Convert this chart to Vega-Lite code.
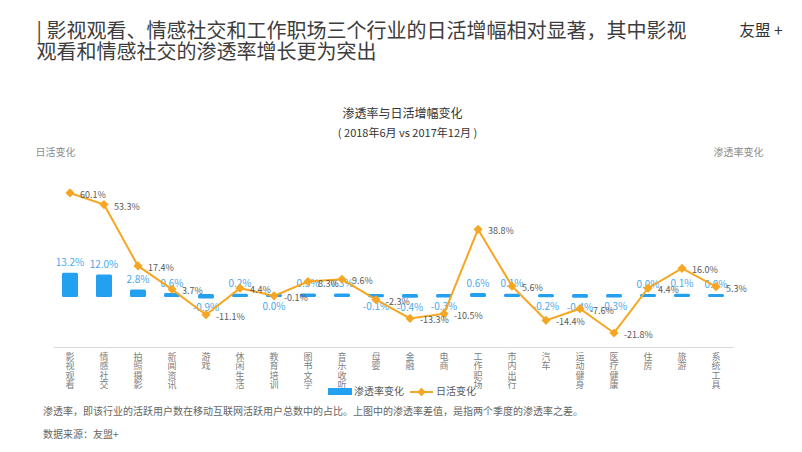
{
  "$schema": "https://vega.github.io/schema/vega-lite/v6.json",
  "width": 680,
  "height": 171,
  "autosize": {"type": "none"},
  "padding": {"left": 53, "top": 176, "right": 69, "bottom": 105},
  "background": "white",
  "data": {
    "values": [
      {"c": "影视观看", "p": 13.2, "d": 60.1},
      {"c": "情感社交", "p": 12.0, "d": 53.3},
      {"c": "拍照摄影", "p": 2.8, "d": 17.4},
      {"c": "新闻资讯", "p": 0.6, "d": 3.7},
      {"c": "游戏", "p": -0.9, "d": -11.1},
      {"c": "休闲生活", "p": 0.2, "d": 4.4},
      {"c": "教育培训", "p": -0.02, "d": -0.1},
      {"c": "图书文学", "p": 0.3, "d": 8.3},
      {"c": "音乐收听", "p": 0.3, "d": 9.6},
      {"c": "母婴", "p": -0.1, "d": -2.3},
      {"c": "金融", "p": -0.4, "d": -13.3},
      {"c": "电商", "p": -0.3, "d": -10.5},
      {"c": "工作职场", "p": 0.6, "d": 38.8},
      {"c": "市内出行", "p": 0.1, "d": 5.6},
      {"c": "汽车", "p": -0.2, "d": -14.4},
      {"c": "运动健身", "p": -0.4, "d": -7.6},
      {"c": "医疗健康", "p": -0.3, "d": -21.8},
      {"c": "住房", "p": 0.0, "d": 4.4},
      {"c": "旅游", "p": 0.1, "d": 16.0},
      {"c": "系统工具", "p": 0.0, "d": 5.3}
    ]
  },
  "layer": [
    {
      "layer": [
        {
          "mark": {"type": "bar", "size": 13, "stroke": "#24a0f0", "strokeWidth": 3, "strokeJoin": "round"},
          "encoding": {
            "x": {
              "field": "c", "type": "nominal", "sort": null,
              "scale": {"paddingInner": 0, "paddingOuter": 0},
              "axis": {
                "orient": "bottom", "labelAngle": 0, "ticks": false, "domain": true, "domainColor": "#d9d9d9", "domainWidth": 1,
                "labelExpr": "split(datum.label, '')", "labelBaseline": "top", "labelFontSize": 9, "labelLineHeight": 9.5,
                "labelColor": "#808080", "labelPadding": 5, "labelOverlap": false,
                "title": ["渗透率，即该行业的活跃用户数在移动互联网活跃用户总数中的占比。上图中的渗透率差值，是指两个季度的渗透率之差。", "数据来源：友盟+"],
                "titleX": -10.5, "titleY": 67.8, "titleAlign": "left", "titleBaseline": "alphabetic", "titleFontSize": 10,
                "titleLineHeight": 23, "titleColor": "#666666", "titleFontWeight": "normal", "titleLimit": 1000
              }
            },
            "y": {
              "field": "p", "type": "quantitative",
              "scale": {"domain": [-31.8, 73.8], "nice": false},
              "axis": {
                "orient": "right", "labels": false, "ticks": false, "domain": false, "grid": false,
                "title": "渗透率变化", "titleAngle": 0, "titleX": 5, "titleY": -20.2, "titleAlign": "center",
                "titleBaseline": "alphabetic", "titleFontSize": 10, "titleColor": "#8c8c8c", "titleFontWeight": "normal"
              }
            },
            "fill": {
              "datum": "渗透率变化", "type": "nominal",
              "scale": {"range": ["#24a0f0"]},
              "legend": {
                "orient": "none", "legendX": 275, "legendY": 203.5, "direction": "horizontal", "title": null,
                "symbolType": "M-1,-0.29H1V0.29H-1Z", "symbolSize": 576, "symbolStrokeWidth": 0,
                "labelFontSize": 10, "labelColor": "#595959", "labelOffset": 2, "padding": 0
              }
            }
          }
        },
        {
          "transform": [{"filter": "datum.p >= 0"}, {"calculate": "replace(format(datum.p, '.1f'), '\u2212', '-') + '%'", "as": "pl"}],
          "mark": {"type": "text", "baseline": "middle", "dy": -11, "fontSize": 10, "color": "#4aa8ea"},
          "encoding": {
            "x": {"field": "c", "type": "nominal", "sort": null},
            "y": {"field": "p", "type": "quantitative"},
            "text": {"field": "pl"}
          }
        },
        {
          "transform": [{"filter": "datum.p < 0"}, {"calculate": "replace(format(datum.p, '.1f'), '\u2212', '-') + '%'", "as": "pl"}],
          "mark": {"type": "text", "baseline": "middle", "dy": 11.5, "fontSize": 10, "color": "#4aa8ea"},
          "encoding": {
            "x": {"field": "c", "type": "nominal", "sort": null},
            "y": {"field": "p", "type": "quantitative"},
            "text": {"field": "pl"}
          }
        }
      ]
    },
    {
      "layer": [
        {
          "mark": {"type": "line", "strokeWidth": 2, "point": {"shape": "diamond", "size": 40, "filled": true, "color": "#f5a623"}},
          "encoding": {
            "x": {
              "field": "c", "type": "nominal", "sort": null,
              "axis": {
                "orient": "top", "labels": false, "ticks": false, "domain": false,
                "title": ["| 影视观看、情感社交和工作职场三个行业的日活增幅相对显著，其中影视", "观看和情感社交的渗透率增长更为突出"],
                "titleX": -17, "titleY": -139, "titleAlign": "left", "titleBaseline": "alphabetic", "titleFontSize": 20,
                "titleLineHeight": 21, "titleColor": "#3d3d3d", "titleFontWeight": "normal", "titleLimit": 1000
              }
            },
            "y": {
              "field": "d", "type": "quantitative",
              "scale": {"domain": [-30, 70], "nice": false},
              "axis": {
                "orient": "left", "labels": false, "ticks": false, "domain": false, "grid": false,
                "title": "日活变化", "titleAngle": 0, "titleX": 2, "titleY": -20.2, "titleAlign": "center",
                "titleBaseline": "alphabetic", "titleFontSize": 10, "titleColor": "#8c8c8c", "titleFontWeight": "normal"
              }
            },
            "stroke": {
              "datum": "日活变化", "type": "nominal",
              "scale": {"range": ["#f5a623"]},
              "legend": {
                "orient": "none", "legendX": 356, "legendY": 203.5, "direction": "horizontal", "title": null,
                "symbolType": "M-1,0H1M-0.25,0L0,-0.25L0.25,0L0,0.25Z M-0.12,0L0,-0.12L0.12,0L0,0.12Z", "symbolSize": 529,
                "symbolStrokeWidth": 2, "labelFontSize": 10, "labelColor": "#595959", "labelOffset": 2, "padding": 0
              }
            }
          }
        },
        {
          "transform": [{"calculate": "replace(format(datum.d, '.1f'), '\u2212', '-') + '%'", "as": "dl"}],
          "mark": {"type": "text", "align": "left", "baseline": "middle", "dx": 10, "dy": 2, "fontSize": 9, "color": "#595959"},
          "encoding": {
            "x": {"field": "c", "type": "nominal", "sort": null},
            "y": {"field": "d", "type": "quantitative"},
            "text": {"field": "dl"}
          }
        }
      ]
    },
    {
      "mark": {"type": "point", "opacity": 0},
      "encoding": {
        "x": {
          "field": "c", "type": "nominal", "sort": null,
          "axis": {
            "orient": "top", "labels": false, "ticks": false, "domain": false,
            "title": "友盟 +", "titleX": 686, "titleY": -141, "titleAlign": "left", "titleBaseline": "alphabetic",
            "titleFontSize": 15.5, "titleColor": "#333333", "titleFontWeight": "normal"
          }
        }
      }
    },
    {
      "mark": {"type": "point", "opacity": 0},
      "encoding": {
        "x": {
          "field": "c", "type": "nominal", "sort": null,
          "axis": {
            "orient": "top", "labels": false, "ticks": false, "domain": false,
            "title": "渗透率与日活增幅变化", "titleX": 349, "titleY": -58.4, "titleAlign": "center", "titleBaseline": "alphabetic",
            "titleFontSize": 12, "titleColor": "#333333", "titleFontWeight": "normal"
          }
        }
      }
    },
    {
      "mark": {"type": "point", "opacity": 0},
      "encoding": {
        "x": {
          "field": "c", "type": "nominal", "sort": null,
          "axis": {
            "orient": "top", "labels": false, "ticks": false, "domain": false,
            "title": "( 2018年6月 vs 2017年12月 )", "titleX": 354, "titleY": -40, "titleAlign": "center", "titleBaseline": "alphabetic",
            "titleFontSize": 11, "titleColor": "#333333", "titleFontWeight": "normal"
          }
        }
      }
    }
  ],
  "resolve": {"scale": {"y": "independent"}, "axis": {"x": "independent", "y": "independent"}},
  "config": {
    "font": "Noto Sans CJK SC",
    "view": {"stroke": null},
    "axis": {"grid": false},
    "legend": {"padding": 0}
  }
}
